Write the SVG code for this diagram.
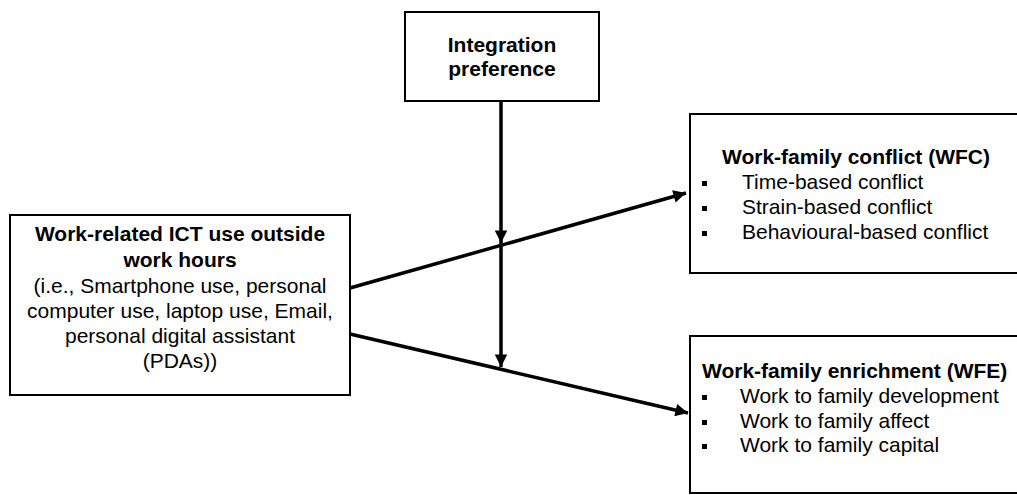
<svg xmlns="http://www.w3.org/2000/svg" width="1017" height="495" viewBox="0 0 1017 495">
<style>
.box{fill:#fff;stroke:#000;stroke-width:2}
.b{font-family:"Liberation Sans",Arial,sans-serif;font-weight:bold;font-size:21px;fill:#000}
.r{font-family:"Liberation Sans",Arial,sans-serif;font-size:21px;fill:#000}
.c{text-anchor:middle}
.ln{stroke:#000;stroke-width:3.5;fill:none}
</style>
<defs>
<marker id="ah" viewBox="0 0 10 10" refX="10" refY="5" markerWidth="4.2" markerHeight="3.6" orient="auto" markerUnits="strokeWidth">
<path d="M0,0 L10,5 L0,10 z" fill="#000"/>
</marker>
</defs>
<g id="connectors">
<path class="ln" d="M501,101 L501,243" marker-end="url(#ah)"/>
<path class="ln" d="M501,243 L501,367" marker-end="url(#ah)"/>
<path class="ln" d="M350,288 L686,193" marker-end="url(#ah)"/>
<path class="ln" d="M350,334 L688,413" marker-end="url(#ah)"/>
</g>
<g id="integration">
<rect class="box" x="405" y="12" width="194" height="89"/>
<text class="b c" x="502" y="52">Integration</text>
<text class="b c" x="502" y="76">preference</text>
</g>
<g id="ict">
<rect class="box" x="10" y="215" width="340" height="180"/>
<text class="b c" x="180" y="241">Work-related ICT use outside</text>
<text class="b c" x="180" y="267">work hours</text>
<text class="r c" x="180" y="293">(i.e., Smartphone use, personal</text>
<text class="r c" x="180" y="318">computer use, laptop use, Email,</text>
<text class="r c" x="180" y="343">personal digital assistant</text>
<text class="r c" x="180" y="368">(PDAs))</text>
</g>
<g id="wfc">
<rect class="box" x="690" y="114" width="340" height="159"/>
<text class="b" x="722" y="164">Work-family conflict (WFC)</text>
<rect x="702" y="181" width="5" height="5"/>
<text class="r" x="742" y="189">Time-based conflict</text>
<rect x="702" y="206" width="5" height="5"/>
<text class="r" x="742" y="214">Strain-based conflict</text>
<rect x="702" y="231" width="5" height="5"/>
<text class="r" x="742" y="239">Behavioural-based conflict</text>
</g>
<g id="wfe">
<rect class="box" x="690" y="336" width="340" height="157"/>
<text class="b" x="702" y="378">Work-family enrichment (WFE)</text>
<rect x="702" y="395" width="5" height="5"/>
<text class="r" x="740" y="403">Work to family development</text>
<rect x="702" y="420" width="5" height="5"/>
<text class="r" x="740" y="428">Work to family affect</text>
<rect x="702" y="444" width="5" height="5"/>
<text class="r" x="740" y="452">Work to family capital</text>
</g>
</svg>
